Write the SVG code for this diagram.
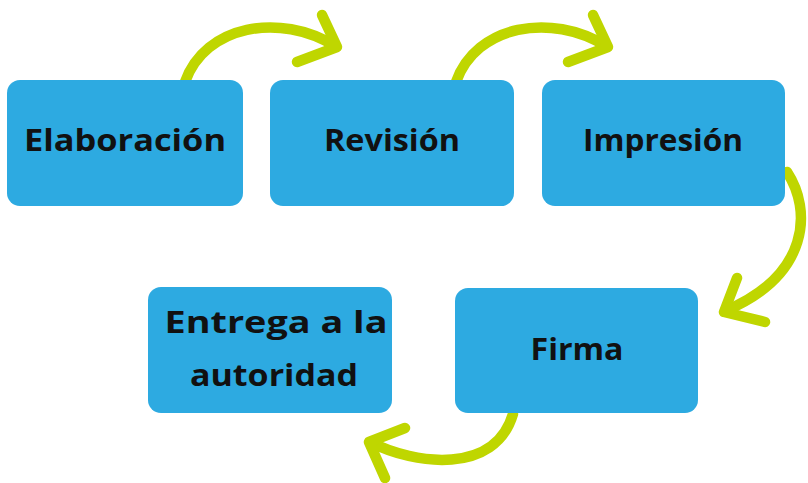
<svg xmlns="http://www.w3.org/2000/svg" width="808" height="483" viewBox="0 0 808 483">
<style>
.box{fill:#2DAAE1}
.lbl{font-family:"Open Sans",Lato,"Noto Sans",sans-serif;font-weight:bold;font-size:30px;fill:#111;text-anchor:middle}
.arr{fill:none;stroke:#BFD600;stroke-width:10.5;stroke-linecap:round;stroke-linejoin:round}
</style>
<rect width="808" height="483" fill="#fff"/>
<g id="connectors">
<path class="arr" d="M185,82 C205,25 280,12 335,46"/>
<path class="arr" d="M322,15 L337,47 L297,62"/>
<path class="arr" d="M456,82 C476,25 551,12 606,46"/>
<path class="arr" d="M593,15 L608,47 L568,62"/>
<path class="arr" d="M787,172 C812,210 810,275 725,311"/>
<path class="arr" d="M737,278 L724,312 L765,322"/>
<path class="arr" d="M513,414 C495,475 415,465 370,442"/>
<path class="arr" d="M405,428 L369,442 L385,478"/>
</g>
<g id="n1"><rect class="box" x="7" y="80" width="236" height="126" rx="13"/><text class="lbl" x="125" y="151" textLength="202" lengthAdjust="spacingAndGlyphs">Elaboración</text></g>
<g id="n2"><rect class="box" x="270" y="80" width="244" height="126" rx="13"/><text class="lbl" x="392" y="151" textLength="136" lengthAdjust="spacingAndGlyphs">Revisión</text></g>
<g id="n3"><rect class="box" x="542" y="80" width="243" height="126" rx="13"/><text class="lbl" x="663" y="151" textLength="160" lengthAdjust="spacingAndGlyphs">Impresión</text></g>
<g id="n4"><rect class="box" x="455" y="288" width="243" height="125" rx="13"/><text class="lbl" x="577" y="360" textLength="93" lengthAdjust="spacingAndGlyphs">Firma</text></g>
<g id="n5"><rect class="box" x="148" y="287" width="244" height="126" rx="13"/><text class="lbl" x="276" y="333" textLength="223" lengthAdjust="spacingAndGlyphs">Entrega a la</text><text class="lbl" x="274" y="386" textLength="168" lengthAdjust="spacingAndGlyphs">autoridad</text></g>
</svg>
